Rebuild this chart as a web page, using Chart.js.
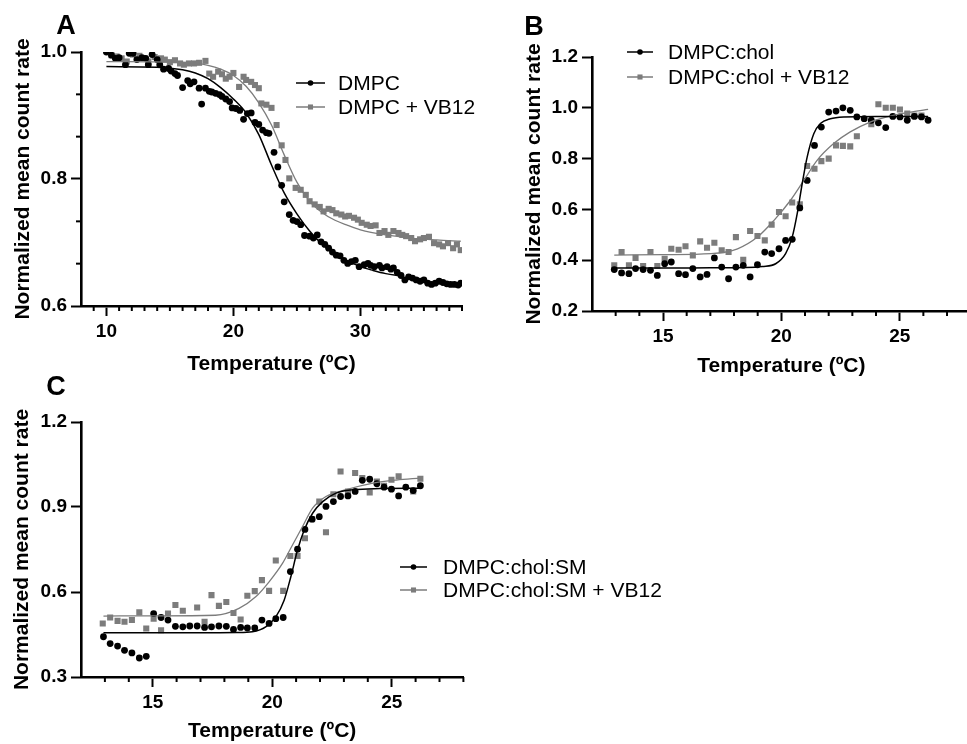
<!DOCTYPE html>
<html>
<head>
<meta charset="utf-8">
<script src="https://cdn.jsdelivr.net/npm/chart.js@4.4.0/dist/chart.umd.min.js"></script>
<style>
  body { margin: 0; background: #fff; width: 967px; height: 744px; overflow: hidden; position: relative; }
  canvas { position: absolute; }
</style>
</head>
<body>
<canvas id="chartA" width="485" height="385" style="left:0;top:0"></canvas>
<canvas id="chartB" width="490" height="385" style="left:485px;top:0"></canvas>
<canvas id="chartC" width="700" height="374" style="left:0;top:370px"></canvas>
<script>
// ---- panel A : DMPC ----
const aDmpcT = [10.0,10.4,10.7,11.0,11.5,11.8,12.1,12.4,12.8,13.1,13.3,13.6,14.0,14.2,14.5,14.9,15.1,15.4,15.6,16.0,16.4,16.6,16.9,17.3,17.5,17.8,18.1,18.3,18.6,18.9,19.1,19.4,19.7,19.9,20.2,20.5,20.8,21.1,21.4,21.7,22.0,22.3,22.6,22.8,23.2,23.5,23.8,24.0,24.4,24.7,25.0,25.3,25.6,26.0,26.3,26.6,26.9,27.2,27.5,27.8,28.1,28.4,28.7,29.0,29.3,29.6,29.9,30.3,30.6,30.8,31.1,31.5,31.7,32.1,32.4,32.6,32.9,33.2,33.5,33.8,34.1,34.4,34.7,35.0,35.3,35.6,35.9,36.2,36.5,36.8,37.1,37.4,37.7,37.9];
const aDmpcY = [1.000,0.995,0.990,0.991,0.980,0.998,0.998,0.988,0.991,0.990,0.980,0.996,0.988,0.980,0.973,0.974,0.970,0.966,0.963,0.944,0.955,0.950,0.953,0.943,0.918,0.943,0.938,0.937,0.935,0.933,0.930,0.926,0.922,0.912,0.911,0.908,0.894,0.903,0.904,0.889,0.886,0.877,0.873,0.872,0.842,0.819,0.790,0.764,0.744,0.735,0.733,0.728,0.711,0.710,0.707,0.712,0.701,0.697,0.691,0.685,0.680,0.679,0.672,0.667,0.670,0.672,0.662,0.665,0.667,0.664,0.662,0.664,0.660,0.662,0.658,0.660,0.653,0.648,0.641,0.646,0.644,0.641,0.639,0.641,0.636,0.634,0.636,0.639,0.637,0.635,0.634,0.634,0.633,0.636];
const aVbT = [10.4,10.8,11.2,11.6,12.1,12.6,12.9,13.3,13.8,14.3,14.6,15.0,15.4,15.8,16.1,16.5,16.9,17.3,17.8,18.1,18.4,18.8,19.1,19.4,19.7,20.0,20.45,20.8,21.0,21.4,21.7,22.0,22.2,22.6,23.0,23.4,23.8,24.1,24.4,24.9,25.3,25.7,26.0,26.4,26.8,27.1,27.5,27.8,28.1,28.5,28.8,29.1,29.5,29.8,30.1,30.5,30.8,31.2,31.5,31.9,32.2,32.6,33.0,33.3,33.6,34.0,34.3,34.7,35.0,35.4,35.8,36.2,36.5,36.9,37.3,37.6,37.9];
const aVbY = [0.995,0.993,0.990,0.985,0.996,0.994,0.990,0.985,0.992,0.990,0.988,0.984,0.987,0.982,0.980,0.982,0.982,0.983,0.986,0.966,0.961,0.969,0.965,0.958,0.961,0.967,0.945,0.961,0.956,0.953,0.948,0.943,0.919,0.917,0.912,0.885,0.853,0.830,0.801,0.786,0.783,0.775,0.765,0.760,0.756,0.749,0.753,0.751,0.746,0.744,0.741,0.742,0.739,0.736,0.731,0.728,0.726,0.727,0.715,0.718,0.712,0.718,0.715,0.712,0.710,0.707,0.702,0.705,0.707,0.709,0.699,0.697,0.694,0.699,0.691,0.697,0.688];
const aDmpcFitT = [10,14,16,17,18,19,20,21,22,23,24,25,26,27,28,29,30,31,32,33.2];
const aDmpcFitY = [0.977,0.976,0.972,0.967,0.958,0.944,0.926,0.904,0.870,0.822,0.778,0.745,0.718,0.697,0.682,0.671,0.662,0.656,0.651,0.647];
const aVbFitT = [10,15,17,18,19,20,21,22,23,24,25,26,27,28,29,30,32,34,36,37.9];
const aVbFitY = [0.985,0.984,0.982,0.979,0.973,0.963,0.946,0.920,0.885,0.838,0.795,0.765,0.747,0.735,0.727,0.720,0.712,0.707,0.704,0.702];

// ---- panel B : DMPC:chol ----
const bCholT = [12.94,13.25,13.56,13.84,14.16,14.47,14.76,15.07,15.35,15.66,15.95,16.26,16.57,16.86,17.17,17.48,17.77,18.08,18.39,18.68,18.99,19.30,19.59,19.90,20.18,20.46,20.78,21.09,21.40,21.69,22.00,22.31,22.60,22.91,23.19,23.50,23.80,24.10,24.41,24.71,25.01,25.32,25.62,25.92,26.20];
const bCholY = [0.363,0.350,0.347,0.367,0.363,0.360,0.340,0.386,0.393,0.347,0.343,0.367,0.334,0.344,0.409,0.373,0.327,0.373,0.380,0.334,0.382,0.432,0.426,0.445,0.478,0.482,0.606,0.714,0.852,0.924,0.983,0.987,1.000,0.990,0.964,0.957,0.951,0.941,0.922,0.966,0.964,0.951,0.966,0.964,0.951];
const bVbT = [12.94,13.25,13.56,13.84,14.16,14.47,14.76,15.07,15.35,15.66,15.95,16.26,16.57,16.86,17.17,17.48,17.77,18.08,18.39,18.68,18.99,19.30,19.59,19.90,20.18,20.46,20.78,21.09,21.40,21.69,22.00,22.31,22.60,22.91,23.19,23.80,24.10,24.41,24.71,25.01,25.32,25.62,25.92];
const bVbY = [0.380,0.432,0.380,0.409,0.377,0.432,0.377,0.406,0.445,0.441,0.455,0.419,0.474,0.449,0.469,0.439,0.432,0.491,0.402,0.515,0.495,0.478,0.540,0.590,0.573,0.627,0.620,0.771,0.760,0.790,0.800,0.852,0.850,0.848,0.888,0.935,1.014,1.000,1.000,0.993,0.977,0.970,0.970];
const bCholFitT = [12.94,15,17,18.5,19.2,19.76,20.18,20.46,20.67,20.88,21.09,21.37,21.65,22.07,22.63,24,26.2];
const bCholFitY = [0.369,0.369,0.370,0.371,0.375,0.386,0.426,0.491,0.583,0.701,0.806,0.898,0.938,0.957,0.964,0.966,0.966];
const bVbFitT = [12.94,15,17.03,18.15,18.99,19.69,20.39,20.95,21.51,22.21,22.91,23.75,24.73,26.2];
const bVbFitY = [0.420,0.422,0.426,0.445,0.491,0.557,0.636,0.714,0.793,0.859,0.905,0.944,0.970,0.994];

// ---- panel C : DMPC:chol:SM ----
const cSmT = [12.94,13.22,13.53,13.82,14.13,14.44,14.73,15.04,15.35,15.64,15.95,16.26,16.55,16.86,17.17,17.46,17.77,18.08,18.38,18.68,18.96,19.27,19.57,19.87,20.15,20.46,20.76,21.06,21.37,21.67,21.97,22.25,22.56,22.86,23.17,23.47,23.77,24.08,24.38,24.68,24.99,25.29,25.59,25.90,26.20];
const cSmY = [0.442,0.418,0.409,0.394,0.385,0.367,0.373,0.524,0.510,0.501,0.479,0.477,0.480,0.480,0.475,0.477,0.480,0.479,0.468,0.475,0.473,0.473,0.501,0.489,0.506,0.510,0.672,0.751,0.821,0.857,0.866,0.902,0.919,0.937,0.939,0.955,0.994,0.998,0.982,0.970,0.963,0.939,0.970,0.958,0.975];
const cVbT = [12.91,13.22,13.53,13.82,14.13,14.44,14.73,15.04,15.35,15.64,15.95,16.26,16.86,17.17,17.46,17.77,18.08,18.38,18.68,18.96,19.27,19.57,19.87,20.15,20.46,20.76,21.06,21.37,21.67,21.97,22.25,22.56,22.86,23.17,23.47,23.77,24.08,24.38,24.68,24.99,25.29,25.90,26.20];
const cVbY = [0.489,0.510,0.498,0.495,0.501,0.528,0.471,0.506,0.465,0.524,0.554,0.534,0.545,0.495,0.589,0.551,0.565,0.526,0.503,0.587,0.603,0.642,0.604,0.711,0.604,0.727,0.727,0.790,0.857,0.919,0.811,0.945,1.025,0.955,1.020,1.002,0.951,0.990,0.975,0.996,1.008,0.955,1.000];
const cSmFitT = [12.94,15,17,18.5,19.17,19.73,20.15,20.5,20.78,21.06,21.34,21.69,22.11,22.67,23.38,24.5,26.2];
const cSmFitY = [0.456,0.456,0.456,0.457,0.460,0.477,0.512,0.571,0.654,0.748,0.819,0.878,0.919,0.949,0.961,0.965,0.966];
const cVbFitT = [12.94,15,17.63,18.61,19.31,19.87,20.43,20.85,21.27,21.69,22.25,23.1,24.22,25.2,26.2];
const cVbFitY = [0.515,0.516,0.518,0.542,0.583,0.636,0.701,0.766,0.831,0.896,0.937,0.961,0.984,0.995,1.002];

// tick values
const aMajorX = [10, 20, 30];
const aMinorX = [9,11,12,13,14,15,16,17,18,19,21,22,23,24,25,26,27,28,29,31,32,33,34,35,36,37,38];
const aMajorY = [0.6, 0.8, 1.0];
const aMinorY = [0.6667, 0.7333, 0.8667, 0.9333];
const bcMajorX = [15, 20, 25];
const bcMinorX = [13,14,16,17,18,19,21,22,23,24,26,27,28];
const bMajorY = [0.2, 0.4, 0.6, 0.8, 1.0, 1.2];
const cMajorY = [0.3, 0.6, 0.9, 1.2];

const BLACK = '#000000';
const GREY = '#7c7c7c';
const FAMILY = '"Liberation Sans", Arial, sans-serif';

Chart.defaults.font.family = FAMILY;
Chart.defaults.color = '#000';

function pts(xs, ys) {
  return xs.map((x, i) => ({ x: x, y: ys[i] }));
}

// minor ticks, in-plot legend and panel letter
const panelDecor = {
  id: 'panelDecor',
  afterDraw(chart, args, o) {
    const ctx = chart.ctx;
    const area = chart.chartArea;
    const xs = chart.scales.x, ys = chart.scales.y;
    ctx.save();
    ctx.strokeStyle = '#000';
    ctx.lineWidth = 2;
    (o.minorX || []).forEach(v => {
      const p = xs.getPixelForValue(v);
      ctx.beginPath(); ctx.moveTo(p, area.bottom); ctx.lineTo(p, area.bottom + 5); ctx.stroke();
    });
    (o.minorY || []).forEach(v => {
      const p = ys.getPixelForValue(v);
      ctx.beginPath(); ctx.moveTo(area.left, p); ctx.lineTo(area.left - 5, p); ctx.stroke();
    });

    // legend
    const lg = o.legend;
    ctx.font = '21px ' + FAMILY;
    ctx.textBaseline = 'middle';
    ctx.textAlign = 'left';
    lg.items.forEach((it, i) => {
      const y = lg.y + i * lg.rowH;
      ctx.strokeStyle = it.color;
      ctx.lineWidth = 1.5;
      ctx.beginPath(); ctx.moveTo(lg.x, y); ctx.lineTo(lg.x + lg.lineW, y); ctx.stroke();
      ctx.fillStyle = it.color;
      Chart.helpers.drawPoint(ctx, { pointStyle: it.marker, radius: it.marker === 'rect' ? 3.6 : 2.8, rotation: 0, borderWidth: 0 }, lg.x + lg.lineW / 2, y);
      ctx.fillStyle = '#000';
      ctx.fillText(it.text, lg.textX, y + 1);
    });

    // panel letter
    ctx.font = 'bold 27px ' + FAMILY;
    ctx.textAlign = 'center';
    ctx.fillStyle = '#000';
    ctx.fillText(o.letter.text, o.letter.x, o.letter.y);
    ctx.restore();
  }
};

function makePanel(id, cfg) {
  const axisBase = {
    type: 'linear',
    grid: { display: true, drawOnChartArea: false, drawTicks: true, tickLength: 10, tickWidth: 2, tickColor: '#000' },
    border: { display: true, color: '#000', width: 2.6 }
  };
  return new Chart(document.getElementById(id), {
    type: 'scatter',
    data: {
      datasets: [
        { data: pts(cfg.fitBlack[0], cfg.fitBlack[1]), showLine: true, borderColor: BLACK, borderWidth: 1.5, pointRadius: 0, cubicInterpolationMode: 'monotone', fill: false },
        { data: pts(cfg.fitGrey[0], cfg.fitGrey[1]), showLine: true, borderColor: GREY, borderWidth: 1.3, pointRadius: 0, cubicInterpolationMode: 'monotone', fill: false },
        { label: cfg.names[0], data: pts(cfg.black[0], cfg.black[1]), pointStyle: 'circle', pointRadius: 3.4, backgroundColor: BLACK, borderWidth: 0 },
        { label: cfg.names[1], data: pts(cfg.grey[0], cfg.grey[1]), pointStyle: 'rect', pointRadius: 4.3, backgroundColor: GREY, borderWidth: 0 }
      ]
    },
    options: {
      responsive: false,
      animation: false,
      layout: { padding: cfg.padding },
      plugins: {
        legend: { display: false },
        tooltip: { enabled: false },
        panelDecor: { minorX: cfg.minorX, minorY: cfg.minorY, legend: cfg.legend, letter: cfg.letter }
      },
      scales: {
        x: Object.assign({}, axisBase, {
          min: cfg.xRange[0], max: cfg.xRange[1],
          afterBuildTicks: s => { s.ticks = cfg.majorX.map(v => ({ value: v })); },
          afterFit: s => { s.height = cfg.xHeight; },
          ticks: { font: { size: 19, weight: 'bold' }, padding: 4, maxRotation: 0 },
          title: { display: true, text: 'Temperature (ºC)', font: { size: 21, weight: 'bold' }, padding: { top: 0, bottom: cfg.xTitlePad } }
        }),
        y: Object.assign({}, axisBase, {
          min: cfg.yRange[0], max: cfg.yRange[1],
          afterBuildTicks: s => { s.ticks = cfg.majorY.map(v => ({ value: v })); },
          afterFit: s => { s.width = cfg.yWidth; },
          ticks: { font: { size: 19, weight: 'bold' }, padding: 4, callback: v => v.toFixed(1) },
          title: { display: true, text: 'Normalized mean count rate', font: { size: 21, weight: 'bold' }, padding: { top: cfg.yTitlePad, bottom: 0 } }
        })
      }
    },
    plugins: [panelDecor]
  });
}

makePanel('chartA', {
  black: [aDmpcT, aDmpcY], grey: [aVbT, aVbY],
  fitBlack: [aDmpcFitT, aDmpcFitY], fitGrey: [aVbFitT, aVbFitY],
  names: ['DMPC', 'DMPC + VB12'],
  xRange: [8, 38], yRange: [0.6, 1.0],
  majorX: aMajorX, minorX: aMinorX, majorY: aMajorY, minorY: aMinorY,
  padding: { left: 0, top: 52, right: 23, bottom: 4 },
  yWidth: 81, xHeight: 75, xTitlePad: 4, yTitlePad: 11,
  legend: { x: 296, lineW: 29, textX: 338, y: 83, rowH: 24,
    items: [{ text: 'DMPC', color: BLACK, marker: 'circle' }, { text: 'DMPC + VB12', color: GREY, marker: 'rect' }] },
  letter: { text: 'A', x: 66, y: 27 }
});

makePanel('chartB', {
  black: [bCholT, bCholY], grey: [bVbT, bVbY],
  fitBlack: [bCholFitT, bCholFitY], fitGrey: [bVbFitT, bVbFitY],
  names: ['DMPC:chol', 'DMPC:chol + VB12'],
  xRange: [12, 28], yRange: [0.2, 1.2],
  majorX: bcMajorX, minorX: bcMinorX, majorY: bMajorY, minorY: [],
  padding: { left: 26, top: 57, right: 0, bottom: 4 },
  yWidth: 81, xHeight: 70, xTitlePad: 2, yTitlePad: 11,
  legend: { x: 142, lineW: 26, textX: 183, y: 52, rowH: 25,
    items: [{ text: 'DMPC:chol', color: BLACK, marker: 'circle' }, { text: 'DMPC:chol + VB12', color: GREY, marker: 'rect' }] },
  letter: { text: 'B', x: 49, y: 28 }
});

makePanel('chartC', {
  black: [cSmT, cSmY], grey: [cVbT, cVbY],
  fitBlack: [cSmFitT, cSmFitY], fitGrey: [cVbFitT, cVbFitY],
  names: ['DMPC:chol:SM', 'DMPC:chol:SM + VB12'],
  xRange: [12, 28], yRange: [0.3, 1.2],
  majorX: bcMajorX, minorX: bcMinorX, majorY: cMajorY, minorY: [],
  padding: { left: 0, top: 52, right: 236.6, bottom: 0 },
  yWidth: 81, xHeight: 67, xTitlePad: 0, yTitlePad: 10,
  legend: { x: 400, lineW: 27, textX: 443, y: 197, rowH: 23,
    items: [{ text: 'DMPC:chol:SM', color: BLACK, marker: 'circle' }, { text: 'DMPC:chol:SM + VB12', color: GREY, marker: 'rect' }] },
  letter: { text: 'C', x: 56, y: 18 }
});
</script>
</body>
</html>
